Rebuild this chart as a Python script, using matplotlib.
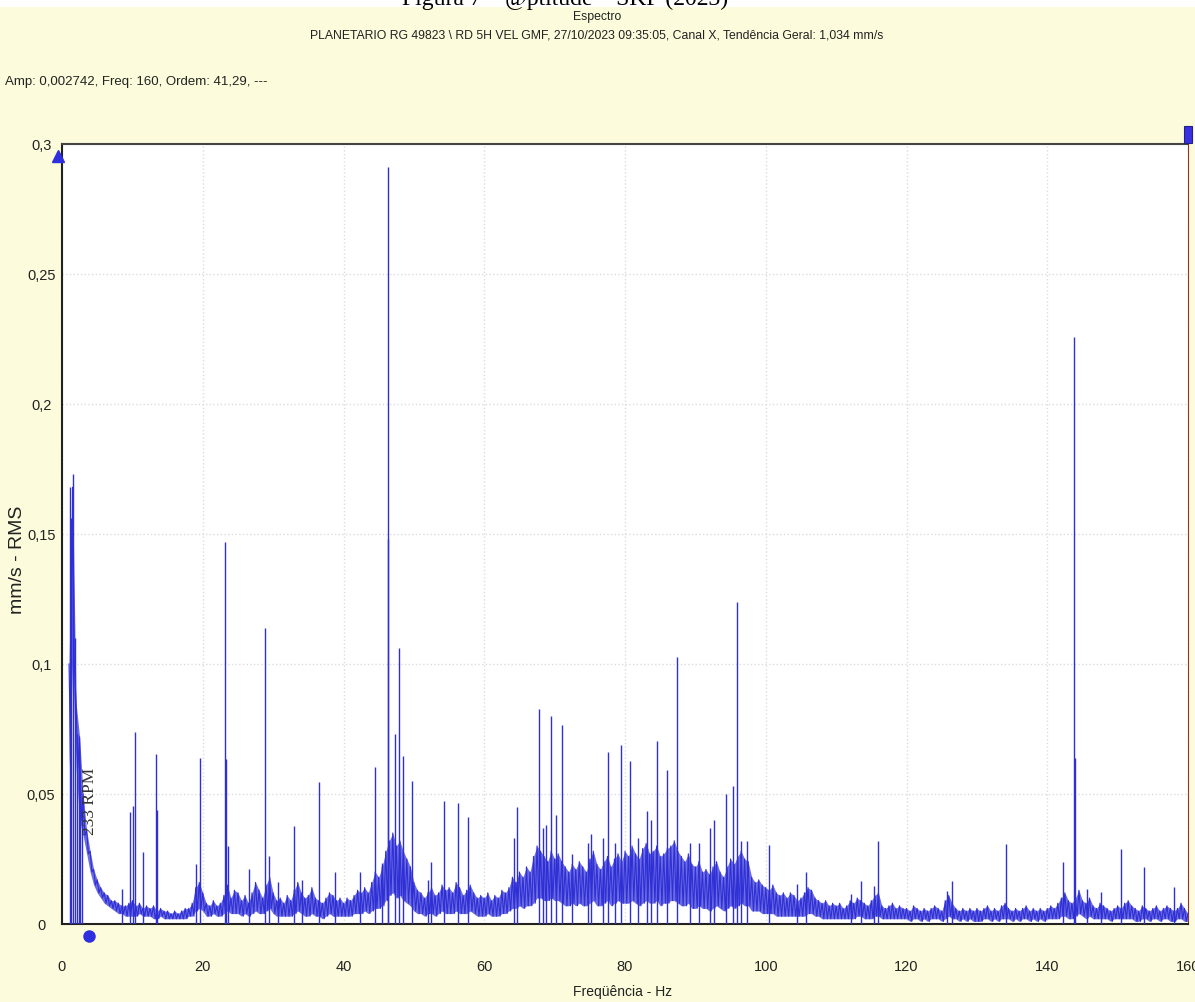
import numpy as np
import matplotlib
matplotlib.use('Agg')
import matplotlib.pyplot as plt
from matplotlib import transforms
from matplotlib.patches import Rectangle

# ---------------- data (mm/s RMS vs Hz) ----------------
peak_freq = [1.1, 1.3, 1.6, 1.85, 2.1, 2.4, 2.6, 2.8,
             8.5, 9.7, 10.05, 10.35, 11.56, 13.36, 13.5, 19.1, 19.6,
             23.1, 23.25, 23.6, 26.6, 28.9, 29.4, 30.7, 32.9, 34.1, 36.5,
             38.8, 42.4, 44.5, 45.4, 46.3, 46.35, 47.3, 47.9, 48.5, 49.7,
             52.0, 52.5, 54.3, 56.2, 57.65, 64.2, 64.7, 67.8, 68.4, 68.8,
             69.5, 70.15, 71.1, 72.4, 74.7, 75.2, 76.9, 77.6, 78.6, 79.4,
             80.7, 81.8, 83.1, 83.7, 84.5, 86.0, 87.4, 89.2, 90.5, 92.1,
             92.6, 94.3, 95.3, 95.9, 96.5, 97.4, 100.5, 104.5, 105.7,
             112.1, 113.6, 115.4, 116.0, 125.8, 126.4, 134.1, 142.2,
             143.85, 143.9, 145.6, 147.7, 150.5, 153.7, 158.05]
peak_amp = [0.168, 0.156, 0.173, 0.110, 0.073, 0.067, 0.052, 0.045,
            0.0135, 0.043, 0.0455, 0.0737, 0.0277, 0.0654, 0.044, 0.023, 0.064,
            0.147, 0.0634, 0.030, 0.021, 0.114, 0.026, 0.016, 0.0378, 0.017, 0.0545,
            0.020, 0.020, 0.0603, 0.0235, 0.291, 0.148, 0.073, 0.106, 0.0645, 0.0551,
            0.017, 0.024, 0.0474, 0.0464, 0.041, 0.033, 0.0449, 0.0827, 0.037, 0.038,
            0.080, 0.042, 0.0765, 0.027, 0.031, 0.0346, 0.033, 0.0663, 0.031, 0.0689,
            0.0628, 0.033, 0.0435, 0.040, 0.0705, 0.0594, 0.1026, 0.031, 0.031, 0.037,
            0.040, 0.050, 0.0532, 0.124, 0.032, 0.032, 0.0304, 0.0155, 0.020,
            0.0115, 0.0167, 0.0145, 0.032, 0.0128, 0.0167, 0.0308, 0.0237,
            0.2258, 0.0637, 0.0135, 0.0122, 0.0288, 0.0218, 0.0144]

# noise band, read every 0.5 Hz from 1.0 Hz to 160 Hz (thousandths of mm/s)
floor_top_milli = [
    100, 168, 85, 72, 50, 36, 28, 21, 17, 14, 12, 11, 9, 9, 8, 7, 7, 8,             # 1.0-9.5
    9, 7, 8, 6, 7, 6, 7, 5, 6, 5, 5, 4, 5, 4, 5, 6, 6, 8, 14, 16,                   # 10-19.5
    12, 8, 7, 9, 7, 8, 11, 15, 10, 13, 12, 9, 11, 8, 12, 16, 13, 10, 15, 18,        # 20-29.5
    12, 9, 10, 8, 11, 9, 13, 16, 12, 10, 11, 14, 10, 9, 8, 10, 12, 11, 9, 10,       # 30-39.5
    8, 10, 9, 11, 13, 12, 14, 12, 16, 20, 18, 22, 28, 32, 35, 30, 32, 28, 25, 22,   # 40-49.5
    16, 13, 12, 10, 12, 14, 11, 12, 15, 13, 14, 12, 16, 14, 11, 13, 15, 12, 10, 11, # 50-59.5
    10, 12, 9, 11, 10, 13, 12, 14, 18, 16, 20, 18, 22, 20, 26, 30, 28, 26, 24, 28,  # 60-69.5
    25, 27, 24, 22, 20, 23, 21, 24, 22, 20, 25, 28, 23, 21, 24, 26, 22, 25, 27, 24, # 70-79.5
    28, 26, 30, 27, 25, 29, 31, 27, 28, 30, 26, 27, 29, 30, 32, 28, 26, 24, 27, 23, # 80-89.5
    22, 24, 20, 21, 19, 22, 24, 20, 18, 22, 25, 23, 26, 28, 25, 24, 18, 16, 17, 15, # 90-99.5
    14, 13, 15, 12, 11, 12, 10, 12, 11, 9, 10, 12, 14, 13, 10, 9, 8, 9, 7, 8,       # 100-109.5
    7, 8, 6, 7, 9, 8, 10, 9, 8, 7, 9, 11, 12, 7, 6, 7, 8, 6, 7, 6,                  # 110-119.5
    6, 5, 7, 6, 5, 6, 5, 6, 7, 6, 5, 9, 11, 8, 6, 5, 6, 5, 6, 5,                    # 120-129.5
    6, 5, 6, 7, 5, 6, 5, 7, 8, 6, 5, 6, 5, 6, 7, 5, 6, 5, 6, 5,                     # 130-139.5
    6, 7, 6, 8, 10, 12, 9, 8, 10, 13, 9, 8, 10, 7, 6, 8, 7, 6, 5, 6,                # 140-149.5
    7, 6, 8, 9, 7, 6, 5, 7, 6, 5, 6, 7, 5, 6, 7, 6, 5, 6, 8, 6,                     # 150-159.5
    4]                                                                              # 160
floor_bot_milli = [
    60, 100, 60, 40, 34, 27, 20, 15, 12, 10, 8, 7, 6, 5, 4, 4, 3, 3,
    3, 3, 4, 3, 3, 3, 2, 2, 3, 2, 2, 2, 2, 2, 2, 2, 3, 3, 5, 6,
    5, 3, 3, 4, 3, 3, 4, 5, 4, 4, 4, 3, 4, 3, 4, 5, 4, 4, 5, 6,
    4, 3, 3, 3, 3, 3, 4, 5, 4, 3, 3, 4, 3, 3, 2, 3, 4, 3, 3, 3,
    3, 3, 3, 4, 4, 4, 5, 4, 5, 6, 6, 7, 9, 11, 12, 10, 11, 9, 8, 7,
    5, 4, 4, 3, 4, 4, 3, 4, 5, 4, 4, 4, 5, 4, 4, 4, 5, 4, 3, 3,
    3, 4, 3, 3, 3, 4, 4, 5, 6, 6, 7, 6, 7, 7, 8, 10, 10, 9, 9, 10,
    9, 9, 8, 7, 7, 8, 7, 8, 7, 7, 8, 9, 7, 7, 8, 9, 7, 8, 9, 8,
    8, 8, 9, 8, 7, 8, 9, 8, 8, 9, 7, 8, 8, 9, 9, 8, 7, 7, 8, 6,
    6, 7, 6, 6, 5, 6, 7, 6, 5, 6, 7, 6, 7, 8, 7, 7, 5, 5, 5, 4,
    4, 4, 4, 3, 3, 3, 3, 3, 3, 3, 3, 3, 4, 4, 3, 3, 2, 2, 2, 2,
    2, 2, 2, 2, 2, 2, 3, 3, 2, 2, 2, 3, 3, 2, 2, 2, 2, 2, 2, 2,
    2, 1, 2, 2, 1, 2, 1, 2, 2, 2, 1, 2, 3, 2, 2, 1, 2, 1, 2, 1,
    1, 1, 2, 2, 1, 2, 1, 2, 2, 2, 1, 2, 1, 2, 2, 1, 2, 1, 2, 1,
    2, 2, 2, 2, 3, 3, 2, 2, 3, 4, 3, 2, 3, 2, 2, 2, 2, 2, 1, 2,
    2, 2, 2, 2, 2, 1, 1, 2, 2, 1, 2, 2, 1, 2, 2, 1, 1, 2, 2, 1,
    1]

x_ticks = [0, 20, 40, 60, 80, 100, 120, 140, 160]
y_ticks = [0, 0.05, 0.1, 0.15, 0.2, 0.25, 0.3]
rpm_freq = 233 / 60.0

title_top = "Figura 7 – @ptitude – SKF (2023)"
title = "Espectro"
subtitle = ("PLANETARIO RG 49823 \\ RD 5H VEL GMF, 27/10/2023 09:35:05, "
            "Canal X, Tendência Geral: 1,034 mm/s")
cursor_text = "Amp: 0,002742, Freq: 160, Ordem: 41,29, ---"

# ---------------- drawing ----------------
SANS = ['Liberation Sans', 'DejaVu Sans']
SERIF = ['Liberation Serif', 'DejaVu Serif']
BLUE = '#2f2fd6'
BG = '#fcfcdc'
TXT = '#222222'

fig = plt.figure(figsize=(11.95, 10.03), dpi=100, facecolor=BG)
W, H = 1195.0, 1003.0

# white strip at very top with cut-off caption
fig.patches.append(Rectangle((0, 1 - 8 / H), 1, 8 / H, transform=fig.transFigure,
                             facecolor='white', edgecolor='none', zorder=0))
fig.text(565 / W, 1 - 5 / H, title_top, ha='center', va='baseline', fontsize=17,
         family=SERIF, color='black')

fig.text(597 / W, 1 - 17 / H, title, ha='center', va='center', fontsize=8.8,
         family=SANS, color=TXT)
fig.text(597 / W, 1 - 35 / H, subtitle, ha='center', va='center', fontsize=8.8,
         family=SANS, color=TXT)
fig.text(5 / W, 1 - 82 / H, cursor_text, ha='left', va='center', fontsize=9.5,
         family=SANS, color=TXT)

ax = fig.add_axes([62 / W, 1 - 925 / H, 1126 / W, 780 / H])
ax.set_facecolor('white')

n = min(len(floor_top_milli), len(floor_bot_milli))
top = np.array(floor_top_milli[:n]) / 1000.0
bot = np.array(floor_bot_milli[:n]) / 1000.0
freq = np.linspace(1.0, 160.0, n)
ax.fill_between(freq, bot, top, color=BLUE, alpha=0.7, lw=0, zorder=2)
xs = np.column_stack([freq, freq + 0.25]).ravel()
ys = np.column_stack([top, bot]).ravel()
ax.plot(xs, ys, color=BLUE, lw=0.8, zorder=3)

ax.vlines(peak_freq, 0, peak_amp, color=BLUE, lw=1.0, zorder=3)

ax.set_xlim(0, 160)
ax.set_ylim(0, 0.3)
ax.set_xticks(x_ticks)
ax.set_xticklabels([str(v) for v in x_ticks], family=SANS, fontsize=10.5, color=TXT)
ax.set_yticks(y_ticks)
ax.set_yticklabels([('{:g}'.format(v)).replace('.', ',') for v in y_ticks],
                   family=SANS, fontsize=10.5, color=TXT, ha='center')
ax.tick_params(axis='x', length=0, pad=25)
ax.tick_params(axis='y', length=0, pad=15)
ax.grid(True, color='#dcdcdc', linestyle=':', lw=1.0, zorder=0)

for s in ['left', 'bottom']:
    ax.spines[s].set_color(TXT)
    ax.spines[s].set_linewidth(1.5)
ax.spines['top'].set_color('#444444')
ax.spines['top'].set_linewidth(1.5)
ax.spines['right'].set_color('#8b3a2a')
ax.spines['right'].set_linewidth(0.8)

ax.set_xlabel('Freqüência - Hz', family=SANS, fontsize=10, color=TXT)
ax.xaxis.set_label_coords((623 - 62) / 1126, -(992 - 925) / 780)
ax.xaxis.label.set_va('center')
ax.set_ylabel('mm/s - RMS', family=SANS, fontsize=14, color=TXT)
ax.yaxis.set_label_coords(-(62 - 18) / 1126, (925 - 560) / 780)
ax.yaxis.label.set_va('center')

# markers: triangle at top-left, rectangle at top-right, RPM dot
bt = transforms.blended_transform_factory(ax.transAxes, ax.transData)
ax.plot([-0.0036], [0.2955], marker='^', color='#2f2fe0', markersize=9,
        transform=bt, clip_on=False, zorder=5)
ax.add_patch(Rectangle((0.9964, 1.001), 0.0072, 0.022, transform=ax.transAxes,
                       facecolor='#3a30e0', edgecolor='#20208a', lw=0.8,
                       clip_on=False, zorder=5))
ax.plot([rpm_freq], [-0.0046], marker='o', color='#2f2fe0', markersize=8,
        clip_on=False, zorder=5)
ax.text(rpm_freq + 0.05, 0.0475, '233 RPM', rotation=90, ha='center', va='center',
        fontsize=12.5, family=SERIF, color='#333333', zorder=6)

fig.savefig('out.png', dpi=100, facecolor=BG)
